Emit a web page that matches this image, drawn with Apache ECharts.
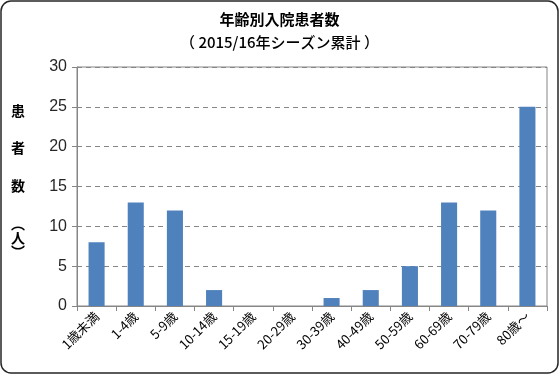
<!DOCTYPE html>
<html><head><meta charset="utf-8">
<script src="https://cdn.jsdelivr.net/npm/echarts@6/dist/echarts.min.js"></script>
<style>html,body{margin:0;padding:0;background:#fff}#c{width:559px;height:374px}</style>
</head><body><div id="c"></div>
<script>
const categories = ['1歳未満','1-4歳','5-9歳','10-14歳','15-19歳','20-29歳','30-39歳','40-49歳','50-59歳','60-69歳','70-79歳','80歳～'];
const patients = [8, 13, 12, 2, 0, 0, 1, 2, 5, 13, 12, 25];
const yTicks = [0, 5, 10, 15, 20, 25, 30];
const titleText = '年齢別入院患者数';
const subtitleText = '（ 2015/16年シーズン累計 ）';
const yNameChars = ['患', '者', '数'];
const yNameUnit = ['︵', '人', '︶'];

const font = '"Noto Sans CJK JP", "Noto Sans", sans-serif';
const chart = echarts.init(document.getElementById('c'), null, {renderer: 'canvas'});
const yCharPos = [111, 148, 186];
const yUnitPos = [224, 238, 252];
const graphics = [
  {type: 'rect', shape: {x: 1, y: 1, width: 557, height: 372, r: 10}, style: {fill: 'none', stroke: '#262626', lineWidth: 1.5}, z: 100},
  {type: 'text', left: 'center', top: 12, style: {text: titleText, font: 'bold 15px ' + font, fill: '#000'}},
  {type: 'text', left: 'center', top: 35, style: {text: subtitleText, font: '500 15px ' + font, fill: '#000'}}
];
yNameChars.forEach((ch, i) => graphics.push({type: 'text', x: 18, y: yCharPos[i], style: {text: ch, font: 'bold 14px ' + font, fill: '#000', align: 'center', verticalAlign: 'middle'}}));
yNameUnit.forEach((ch, i) => graphics.push({type: 'text', x: 18, y: yUnitPos[i], style: {text: ch, font: 'bold 14px ' + font, fill: '#000', align: 'center', verticalAlign: 'middle'}}));

chart.setOption({
  animation: false,
  backgroundColor: '#fff',
  graphic: graphics,
  grid: {left: 77, right: 12, top: 67, bottom: 68, show: true, borderColor: '#868686', borderWidth: 1},
  xAxis: {
    type: 'category', data: categories,
    axisLine: {lineStyle: {color: '#868686'}},
    axisTick: {show: true, length: 5, lineStyle: {color: '#868686'}},
    axisLabel: {rotate: 45, fontSize: 13, color: '#000', fontFamily: font, margin: 8}
  },
  yAxis: {
    type: 'value', min: yTicks[0], max: yTicks[yTicks.length - 1], interval: 5,
    axisLine: {show: true, lineStyle: {color: '#868686'}},
    axisTick: {show: true, length: 5, lineStyle: {color: '#868686'}},
    axisLabel: {fontSize: 16, color: '#262626', fontFamily: '"Liberation Sans", sans-serif', margin: 10},
    splitLine: {show: true, lineStyle: {color: '#868686', type: [5, 4]}}
  },
  series: [{type: 'bar', data: patients, barWidth: '41%', itemStyle: {color: '#4F81BD'}}]
});
</script></body></html>
